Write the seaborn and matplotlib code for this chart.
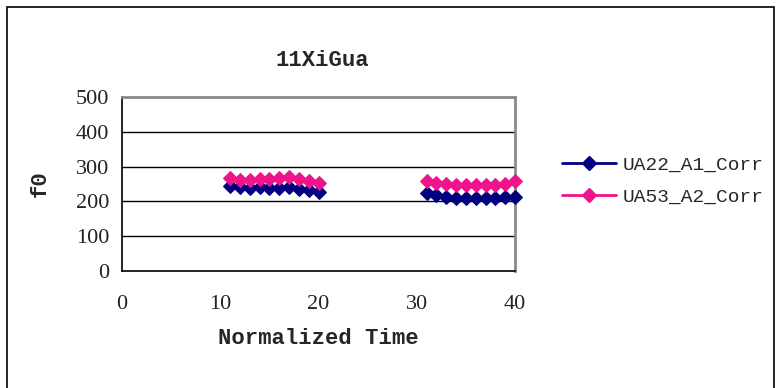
import numpy as np
import pandas as pd
import seaborn as sns
import matplotlib
matplotlib.use("Agg")
import matplotlib.pyplot as plt
from matplotlib.lines import Line2D
from matplotlib.patches import Rectangle

# Normalized time points of the two syllable segments
time_seg1 = [11, 12, 13, 14, 15, 16, 17, 18, 19, 20]
time_seg2 = [31, 32, 33, 34, 35, 36, 37, 38, 39, 40]

# f0 values (Hz) per speaker
ua22_seg1 = [245, 240, 238, 240, 238, 238, 240, 237, 233, 228]
ua22_seg2 = [225, 218, 213, 211, 211, 211, 211, 211, 214, 214]
ua53_seg1 = [266, 261, 261, 264, 265, 266, 270, 265, 258, 253]
ua53_seg2 = [259, 253, 249, 248, 248, 248, 248, 248, 251, 259]

series_names = ["UA22_A1_Corr", "UA53_A2_Corr"]
colors = {"UA22_A1_Corr": "#000080", "UA53_A2_Corr": "#F0148C"}

rows = []
for name, s1, s2 in [(series_names[0], ua22_seg1, ua22_seg2),
                     (series_names[1], ua53_seg1, ua53_seg2)]:
    for t, v in zip(time_seg1, s1):
        rows.append((name, 1, t, v))
    for t, v in zip(time_seg2, s2):
        rows.append((name, 2, t, v))
df = pd.DataFrame(rows, columns=["series", "segment", "time", "f0"])

sns.set_style("white")
mono = "Liberation Mono"
serif = "Liberation Serif"

fig = plt.figure(figsize=(7.8, 3.88), dpi=100)
ax = fig.add_axes([122 / 780, 1 - 271 / 388, (515 - 122) / 780, (271 - 97) / 388])

for name in series_names:
    sub = df[df["series"] == name]
    sns.lineplot(data=sub, x="time", y="f0", units="segment", estimator=None,
                 color=colors[name], marker="D", markersize=7.5,
                 markeredgecolor=colors[name], linewidth=1.5, ax=ax,
                 legend=False, zorder=3, clip_on=False)

ax.set_xlim(0, 40)
ax.set_ylim(0, 500)
ax.set_xticks([0, 10, 20, 30, 40])
ax.set_yticks([0, 100, 200, 300, 400, 500])
for y in [100, 200, 300, 400]:
    ax.axhline(y, color="black", linewidth=1.0, zorder=1)

ax.tick_params(axis="both", direction="inout", length=10, width=1.0,
               color="black", labelsize=16)
ax.tick_params(axis="x", pad=12)
ax.tick_params(axis="y", pad=4)
for lab in ax.get_xticklabels() + ax.get_yticklabels():
    lab.set_fontfamily(serif)
    lab.set_color("#222222")

for side in ["left", "bottom"]:
    ax.spines[side].set_color("black")
    ax.spines[side].set_linewidth(1.2)
for side in ["top", "right"]:
    ax.spines[side].set_color("#8a8a8a")
    ax.spines[side].set_linewidth(2.0)

ax.set_xlabel("")
ax.set_ylabel("")
fig.text(318 / 780, 1 - 339 / 388, "Normalized Time", ha="center", va="center",
         fontsize=16, fontweight="bold", family=mono)
fig.text(40 / 780, 1 - 184 / 388, "f0", ha="center", va="center", rotation=90,
         fontsize=16, fontweight="bold", family=mono)
fig.text(322 / 780, 1 - 60 / 388, "11XiGua", ha="center", va="center",
         fontsize=16, fontweight="bold", family=mono)

handles = [Line2D([0], [0], color=colors[n], marker="D", markersize=7.5,
                  linewidth=2.0) for n in series_names]
leg = fig.legend(handles, series_names, loc="center left",
                 bbox_to_anchor=(552 / 780, 1 - 181 / 388), frameon=False,
                 prop={"family": mono, "size": 14}, handlelength=2.8,
                 handletextpad=0.35, labelspacing=0.75, borderpad=0)

fig.patches.append(Rectangle((7 / 780, -0.05), (774 - 7) / 780, 1.05 - 7 / 388,
                             transform=fig.transFigure, fill=False,
                             edgecolor="black", linewidth=1.2))

fig.savefig("out.png", dpi=100)
